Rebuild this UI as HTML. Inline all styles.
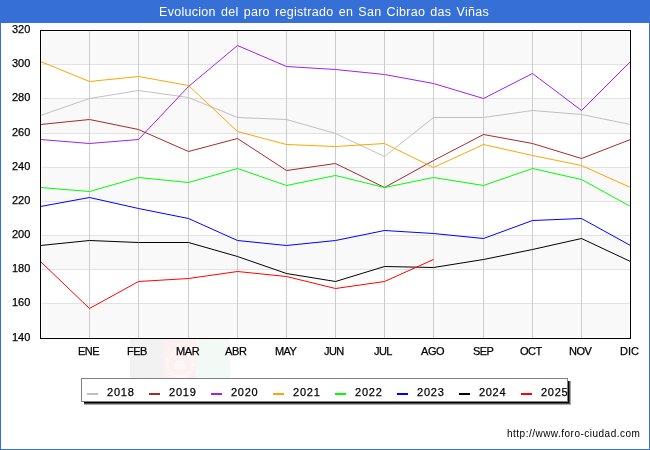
<!DOCTYPE html>
<html><head><meta charset="utf-8"><title>Evolucion del paro registrado en San Cibrao das Viñas</title>
<style>
html,body{margin:0;padding:0;background:#fff;}
body{width:650px;height:450px;overflow:hidden;position:relative;font-family:"Liberation Sans",sans-serif;color:#000;}
#frame{position:absolute;left:0;top:0;width:648px;height:448px;border:1px solid #3670d6;background:#fff;}
#title{position:absolute;left:0;top:0;width:650px;height:23px;background:#3670d6;}
svg{position:absolute;left:0;top:0;}
.t{position:absolute;white-space:nowrap;will-change:transform;-webkit-text-stroke:0.25px currentColor;}
#legend{position:absolute;left:81px;top:378px;width:485px;height:22px;border:1px solid #808080;background:#fff;}
#legend i{position:absolute;top:14px;width:11px;height:2px;}
</style></head><body>
<div id="frame"></div>
<div id="title"></div>
<div class="t" style="left:159px;top:5px;font-size:12.5px;line-height:14.5px;letter-spacing:0.29px;color:#fff;word-spacing:1.4px;-webkit-text-stroke:0;">Evolucion del paro registrado en San Cibrao das Viñas</div>
<svg width="650" height="450" viewBox="0 0 650 450">
<defs><clipPath id="fc"><rect x="130" y="339" width="100" height="39"/></clipPath></defs><g clip-path="url(#fc)"><rect x="130" y="339" width="34" height="39" fill="#f2f2f2"/><rect x="163.5" y="339" width="33" height="39" fill="#fdf0f0"/><rect x="196.5" y="339" width="33.5" height="39" fill="#f3f9f4"/><circle cx="180" cy="364" r="12.5" fill="none" stroke="#fff" stroke-width="3.5" stroke-dasharray="2.5 1" opacity="0.55"/><path d="M174 369h12v-5l-2-3h-8l-2 3z" fill="#fff" opacity="0.45"/><circle cx="180" cy="357" r="2" fill="#fff" opacity="0.45"/></g>
<rect x="42" y="32" width="587" height="32" fill="#f9f9f9"/>
<rect x="42" y="99" width="587" height="34" fill="#f9f9f9"/>
<rect x="42" y="168" width="587" height="33" fill="#f9f9f9"/>
<rect x="42" y="236" width="587" height="33" fill="#f9f9f9"/>
<rect x="42" y="304" width="587" height="33" fill="#f9f9f9"/>
<line x1="42" x2="630" y1="64.5" y2="64.5" stroke="#e2e2e2"/>
<line x1="42" x2="630" y1="98.5" y2="98.5" stroke="#e2e2e2"/>
<line x1="42" x2="630" y1="133.5" y2="133.5" stroke="#e2e2e2"/>
<line x1="42" x2="630" y1="167.5" y2="167.5" stroke="#e2e2e2"/>
<line x1="42" x2="630" y1="201.5" y2="201.5" stroke="#e2e2e2"/>
<line x1="42" x2="630" y1="235.5" y2="235.5" stroke="#e2e2e2"/>
<line x1="42" x2="630" y1="269.5" y2="269.5" stroke="#e2e2e2"/>
<line x1="42" x2="630" y1="303.5" y2="303.5" stroke="#e2e2e2"/>
<line x1="89.5" x2="89.5" y1="31" y2="338" stroke="#cccccc"/>
<line x1="138.5" x2="138.5" y1="31" y2="338" stroke="#cccccc"/>
<line x1="188.5" x2="188.5" y1="31" y2="338" stroke="#cccccc"/>
<line x1="237.5" x2="237.5" y1="31" y2="338" stroke="#cccccc"/>
<line x1="286.5" x2="286.5" y1="31" y2="338" stroke="#cccccc"/>
<line x1="335.5" x2="335.5" y1="31" y2="338" stroke="#cccccc"/>
<line x1="384.5" x2="384.5" y1="31" y2="338" stroke="#cccccc"/>
<line x1="433.5" x2="433.5" y1="31" y2="338" stroke="#cccccc"/>
<line x1="483.5" x2="483.5" y1="31" y2="338" stroke="#cccccc"/>
<line x1="532.5" x2="532.5" y1="31" y2="338" stroke="#cccccc"/>
<line x1="581.5" x2="581.5" y1="31" y2="338" stroke="#cccccc"/>
<polyline points="40.5,115.5 89.5,98.5 138.5,90.5 188.5,97.5 237.5,117.5 286.5,119.5 335.5,133.5 384.5,156.5 433.5,117.5 483.5,117.5 532.5,110.5 581.5,114.5 630.5,124.5" fill="none" stroke="#c0c0c0" stroke-width="1" stroke-linejoin="round"/>
<polyline points="40.5,124.5 89.5,119.5 138.5,129.5 188.5,151.5 237.5,138.5 286.5,170.5 335.5,163.5 384.5,187.5 433.5,160.5 483.5,134.5 532.5,143.5 581.5,158.5 630.5,139.5" fill="none" stroke="#a52a2a" stroke-width="1" stroke-linejoin="round"/>
<polyline points="40.5,139.5 89.5,143.5 138.5,139.5 188.5,86.5 237.5,45.5 286.5,66.5 335.5,69.5 384.5,74.5 433.5,83.5 483.5,98.5 532.5,73.5 581.5,110.5 630.5,61.5" fill="none" stroke="#a020f0" stroke-width="1" stroke-linejoin="round"/>
<polyline points="40.5,61.5 89.5,81.5 138.5,76.5 188.5,85.5 237.5,131.5 286.5,144.5 335.5,146.5 384.5,143.5 433.5,167.5 483.5,144.5 532.5,155.5 581.5,165.5 630.5,187.5" fill="none" stroke="#ffa500" stroke-width="1" stroke-linejoin="round"/>
<polyline points="40.5,187.5 89.5,191.5 138.5,177.5 188.5,182.5 237.5,168.5 286.5,185.5 335.5,175.5 384.5,187.5 433.5,177.5 483.5,185.5 532.5,168.5 581.5,179.5 630.5,206.5" fill="none" stroke="#00ff00" stroke-width="1" stroke-linejoin="round"/>
<polyline points="40.5,206.5 89.5,197.5 138.5,208.5 188.5,218.5 237.5,240.5 286.5,245.5 335.5,240.5 384.5,230.5 433.5,233.5 483.5,238.5 532.5,220.5 581.5,218.5 630.5,245.5" fill="none" stroke="#0000ff" stroke-width="1" stroke-linejoin="round"/>
<polyline points="40.5,245.5 89.5,240.5 138.5,242.5 188.5,242.5 237.5,256.5 286.5,273.5 335.5,281.5 384.5,266.5 433.5,267.5 483.5,259.5 532.5,249.5 581.5,238.5 630.5,261.5" fill="none" stroke="#000000" stroke-width="1" stroke-linejoin="round"/>
<polyline points="40.5,261.5 89.5,308.5 138.5,281.5 188.5,278.5 237.5,271.5 286.5,276.5 335.5,288.5 384.5,281.5 433.5,259.5" fill="none" stroke="#ff0000" stroke-width="1" stroke-linejoin="round"/>
<rect x="40.5" y="30.5" width="590" height="308" fill="none" stroke="#000"/>
<path d="M84 402.5H571M568.5 381V403" stroke="#000" fill="none"/><path d="M84 403.5H571M569.5 381V404" stroke="#505050" fill="none"/><path d="M84 404.5H571M570.5 381V405" stroke="#a8a8a8" fill="none"/>
</svg>
<div class="t" style="left:12px;top:23px;font-size:11px;line-height:13px;letter-spacing:0.00px;">320</div>
<div class="t" style="left:12px;top:57px;font-size:11px;line-height:13px;letter-spacing:0.00px;">300</div>
<div class="t" style="left:12px;top:91px;font-size:11px;line-height:13px;letter-spacing:0.00px;">280</div>
<div class="t" style="left:12px;top:126px;font-size:11px;line-height:13px;letter-spacing:0.00px;">260</div>
<div class="t" style="left:12px;top:160px;font-size:11px;line-height:13px;letter-spacing:0.00px;">240</div>
<div class="t" style="left:12px;top:194px;font-size:11px;line-height:13px;letter-spacing:0.00px;">220</div>
<div class="t" style="left:12px;top:228px;font-size:11px;line-height:13px;letter-spacing:0.00px;">200</div>
<div class="t" style="left:12px;top:262px;font-size:11px;line-height:13px;letter-spacing:0.00px;">180</div>
<div class="t" style="left:12px;top:296px;font-size:11px;line-height:13px;letter-spacing:0.00px;">160</div>
<div class="t" style="left:12px;top:331px;font-size:11px;line-height:13px;letter-spacing:0.00px;">140</div>
<div class="t" style="left:78px;top:345px;font-size:11px;line-height:13px;letter-spacing:-0.55px;">ENE</div>
<div class="t" style="left:127px;top:345px;font-size:11px;line-height:13px;letter-spacing:-0.55px;">FEB</div>
<div class="t" style="left:176px;top:345px;font-size:11px;line-height:13px;letter-spacing:-0.37px;">MAR</div>
<div class="t" style="left:225px;top:345px;font-size:11px;line-height:13px;letter-spacing:-0.30px;">ABR</div>
<div class="t" style="left:275px;top:345px;font-size:11px;line-height:13px;letter-spacing:-0.55px;">MAY</div>
<div class="t" style="left:324px;top:345px;font-size:11px;line-height:13px;letter-spacing:-0.55px;">JUN</div>
<div class="t" style="left:374px;top:345px;font-size:11px;line-height:13px;letter-spacing:-0.55px;">JUL</div>
<div class="t" style="left:421px;top:345px;font-size:11px;line-height:13px;letter-spacing:-0.40px;">AGO</div>
<div class="t" style="left:473px;top:345px;font-size:11px;line-height:13px;letter-spacing:-0.55px;">SEP</div>
<div class="t" style="left:520px;top:345px;font-size:11px;line-height:13px;letter-spacing:-0.55px;">OCT</div>
<div class="t" style="left:569px;top:345px;font-size:11px;line-height:13px;letter-spacing:-0.44px;">NOV</div>
<div class="t" style="left:620px;top:345px;font-size:11px;line-height:13px;letter-spacing:-0.03px;">DIC</div>
<div id="legend">
<i style="left:5px;background:#c0c0c0"></i>
<i style="left:67px;background:#a52a2a"></i>
<i style="left:129px;background:#a020f0"></i>
<i style="left:191px;background:#ffa500"></i>
<i style="left:253px;background:#00ff00"></i>
<i style="left:315px;background:#0000ff"></i>
<i style="left:377px;background:#000000"></i>
<i style="left:439px;background:#ff0000"></i>
</div>
<div class="t" style="left:107px;top:386px;font-size:11px;line-height:13px;letter-spacing:0.76px;">2018</div>
<div class="t" style="left:169px;top:386px;font-size:11px;line-height:13px;letter-spacing:0.77px;">2019</div>
<div class="t" style="left:231px;top:386px;font-size:11px;line-height:13px;letter-spacing:0.73px;">2020</div>
<div class="t" style="left:293px;top:386px;font-size:11px;line-height:13px;letter-spacing:0.76px;">2021</div>
<div class="t" style="left:355px;top:386px;font-size:11px;line-height:13px;letter-spacing:0.78px;">2022</div>
<div class="t" style="left:417px;top:386px;font-size:11px;line-height:13px;letter-spacing:0.76px;">2023</div>
<div class="t" style="left:479px;top:386px;font-size:11px;line-height:13px;letter-spacing:0.68px;">2024</div>
<div class="t" style="left:541px;top:386px;font-size:11px;line-height:13px;letter-spacing:0.72px;">2025</div>
<div class="t" style="left:507px;top:428px;font-size:10px;line-height:12px;letter-spacing:0.49px;-webkit-text-stroke:0;">http://www.foro-ciudad.com</div>
</body></html>
